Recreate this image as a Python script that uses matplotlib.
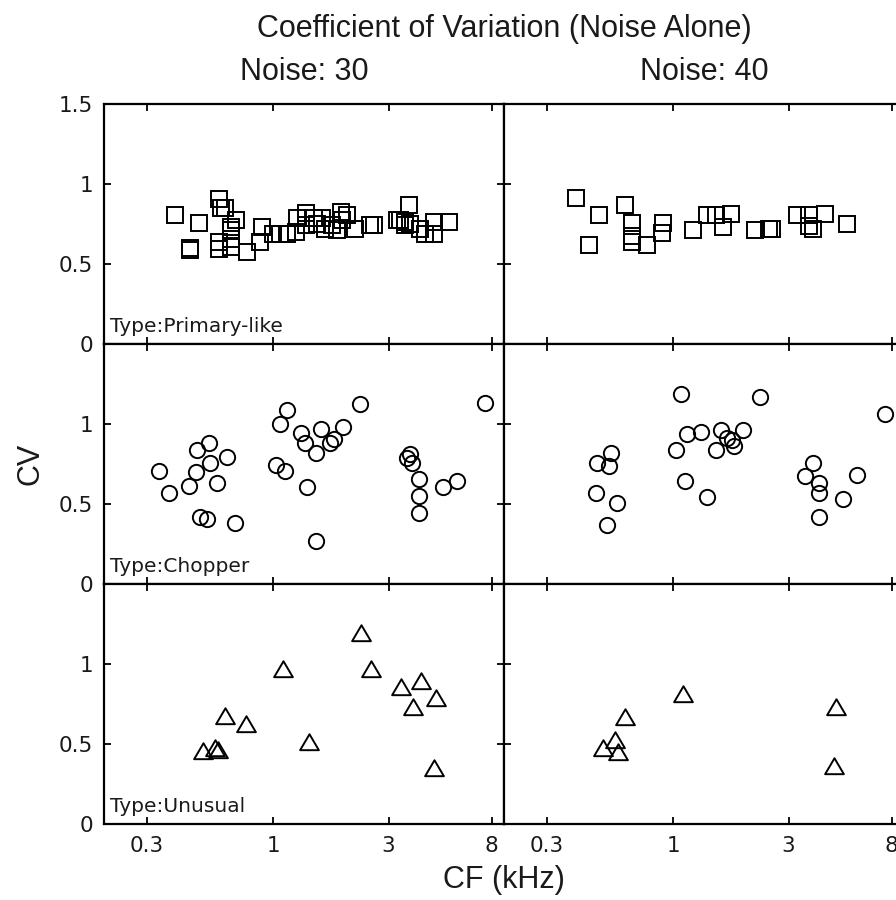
import matplotlib.pyplot as plt
from matplotlib.path import Path

# CF (kHz) and CV per unit type, for the two noise levels
prim30_cf = [0.394, 0.496, 0.452, 0.452, 0.60, 0.61, 0.635, 0.70, 0.67, 0.67, 0.67, 0.67,
             0.596, 0.596, 0.781, 0.90, 0.886, 1.0, 1.07, 1.14, 1.24, 1.25, 1.37, 1.37,
             1.47, 1.52, 1.59, 1.64, 1.75, 1.84, 1.90, 1.93, 2.02, 2.19, 2.52, 2.60,
             3.24, 3.64, 3.36, 3.52, 3.69, 3.52, 4.06, 4.26, 4.61, 4.61, 5.32]
prim30_cv = [0.807, 0.76, 0.60, 0.59, 0.906, 0.85, 0.85, 0.776, 0.734, 0.713, 0.661, 0.608,
             0.64, 0.598, 0.58, 0.734, 0.64, 0.69, 0.69, 0.69, 0.70, 0.79, 0.82, 0.745,
             0.79, 0.755, 0.79, 0.72, 0.745, 0.713, 0.83, 0.776, 0.807, 0.72, 0.745, 0.745,
             0.78, 0.87, 0.776, 0.765, 0.755, 0.745, 0.724, 0.693, 0.693, 0.765, 0.765]

prim40_cf = [0.395, 0.496, 0.451, 0.635, 0.673, 0.673, 0.673, 0.78, 0.906, 0.90, 1.21,
             1.38, 1.50, 1.61, 1.74, 2.19, 2.48, 2.56, 3.25, 3.63, 3.63, 3.78, 4.26, 5.24]
prim40_cv = [0.918, 0.807, 0.619, 0.87, 0.76, 0.68, 0.64, 0.62, 0.76, 0.696, 0.718,
             0.807, 0.807, 0.734, 0.818, 0.718, 0.72, 0.72, 0.807, 0.807, 0.74, 0.72, 0.818, 0.755]

chop30_cf = [0.337, 0.371, 0.448, 0.478, 0.485, 0.542, 0.55, 0.645, 0.587, 0.50, 0.533, 0.699,
             1.07, 1.14, 1.03, 1.12, 1.38, 1.30, 1.36, 1.50, 1.58, 1.72, 1.78, 1.95, 2.28,
             1.50, 3.58, 3.69, 3.75, 4.0, 4.0, 4.0, 5.04, 5.75, 7.54]
chop30_cv = [0.711, 0.571, 0.613, 0.70, 0.839, 0.885, 0.76, 0.797, 0.634, 0.421, 0.408, 0.383,
             1.0, 1.088, 0.749, 0.707, 0.609, 0.948, 0.885, 0.822, 0.973, 0.885, 0.906, 0.985, 1.125,
             0.272, 0.791, 0.812, 0.76, 0.659, 0.55, 0.446, 0.609, 0.644, 1.136]

chop40_cf = [0.478, 0.485, 0.542, 0.556, 0.533, 0.587, 1.08, 1.03, 1.14, 1.12, 1.30, 1.38,
             1.50, 1.57, 1.67, 1.75, 1.78, 1.95, 2.28, 3.77, 3.50, 4.02, 4.02, 4.02, 5.04,
             5.75, 7.54]
chop40_cv = [0.571, 0.76, 0.743, 0.822, 0.373, 0.509, 1.188, 0.839, 0.937, 0.644, 0.952, 0.546,
             0.837, 0.964, 0.916, 0.90, 0.868, 0.964, 1.174, 0.76, 0.676, 0.634, 0.571, 0.421, 0.534,
             0.686, 1.063]

unus30_cf = [0.514, 0.577, 0.59, 0.635, 0.769, 1.10, 1.41, 2.31, 2.54, 3.39, 4.09, 3.79, 4.69, 4.61]
unus30_cv = [0.456, 0.477, 0.462, 0.68, 0.63, 0.969, 0.515, 1.199, 0.969, 0.858, 0.895, 0.732, 0.791, 0.352]

unus40_cf = [0.514, 0.577, 0.59, 0.635, 1.10, 4.69, 4.61]
unus40_cv = [0.477, 0.53, 0.45, 0.67, 0.816, 0.732, 0.362]

types = ['Primary-like', 'Chopper', 'Unusual']
noise_levels = [30, 40]
xticks = [0.3, 1, 3, 8]
xtick_labels = ['0.3', '1', '3', '8']

# wide, flat triangle like the classic '^' marker
tri = Path([(-1, -0.82), (1, -0.82), (0, 0.88), (-1, -0.82)],
           [Path.MOVETO, Path.LINETO, Path.LINETO, Path.CLOSEPOLY])

data = [
    [(prim30_cf, prim30_cv), (prim40_cf, prim40_cv)],
    [(chop30_cf, chop30_cv), (chop40_cf, chop40_cv)],
    [(unus30_cf, unus30_cv), (unus40_cf, unus40_cv)],
]
markers = [('s', 11.2), ('o', 11.0), (tri, 13.5)]

fig = plt.figure(figsize=(8.96, 9.0), dpi=100)
W, H = 896, 900
left_px = [104, 504]
top_px = [104.4, 344.4, 584.4]
aw, ah = 400, 240

for r in range(3):
    for c in range(2):
        ax = fig.add_axes([left_px[c] / W, (H - top_px[r] - ah) / H, aw / W, ah / H])
        cf, cv = data[r][c]
        m, ms = markers[r]
        ax.plot(cf, cv, linestyle='none', marker=m, markersize=ms,
                markerfacecolor='none', markeredgecolor='black', markeredgewidth=1.4)
        ax.set_xscale('log')
        ax.set_xlim(0.2, 9)
        ax.set_ylim(0, 1.5)
        ax.set_xticks(xticks)
        ax.minorticks_off()
        ax.set_yticks([0, 0.5, 1, 1.5])
        ax.tick_params(direction='in', length=5, width=1.3, top=True, right=True,
                       labelsize=15.5, pad=8, labelcolor='#1a1a1a')
        for s in ax.spines.values():
            s.set_linewidth(1.6)
        if r == 2:
            ax.set_xticklabels(xtick_labels)
        else:
            ax.set_xticklabels([])
        if c == 0:
            if r == 0:
                ax.set_yticklabels(['0', '0.5', '1', '1.5'])
            else:
                ax.set_yticklabels(['0', '0.5', '1', ''])
            ax.text(0.015, 0.05, 'Type:' + types[r], transform=ax.transAxes,
                    fontsize=14.5, va='baseline', ha='left', color='#1a1a1a')
        else:
            ax.set_yticklabels([])
        if r == 0:
            ax.text(200 / aw, 1 + 32 / ah, 'Noise: %d' % noise_levels[c], transform=ax.transAxes,
                    ha='center', va='center', fontsize=22, family='Liberation Sans',
                    color='#1a1a1a')

fig.text(504 / W, 1 - 29 / H, 'Coefficient of Variation (Noise Alone)', ha='center', va='center',
         fontsize=22, family='Liberation Sans', color='#1a1a1a')
fig.text(504 / W, 1 - 880 / H, 'CF (kHz)', ha='center', va='center', fontsize=22,
         family='Liberation Sans', color='#1a1a1a')
fig.text(30 / W, 1 - 464 / H, 'CV', ha='center', va='center', rotation=90, fontsize=22,
         family='Liberation Sans', color='#1a1a1a')

fig.savefig('out.png', dpi=100)
